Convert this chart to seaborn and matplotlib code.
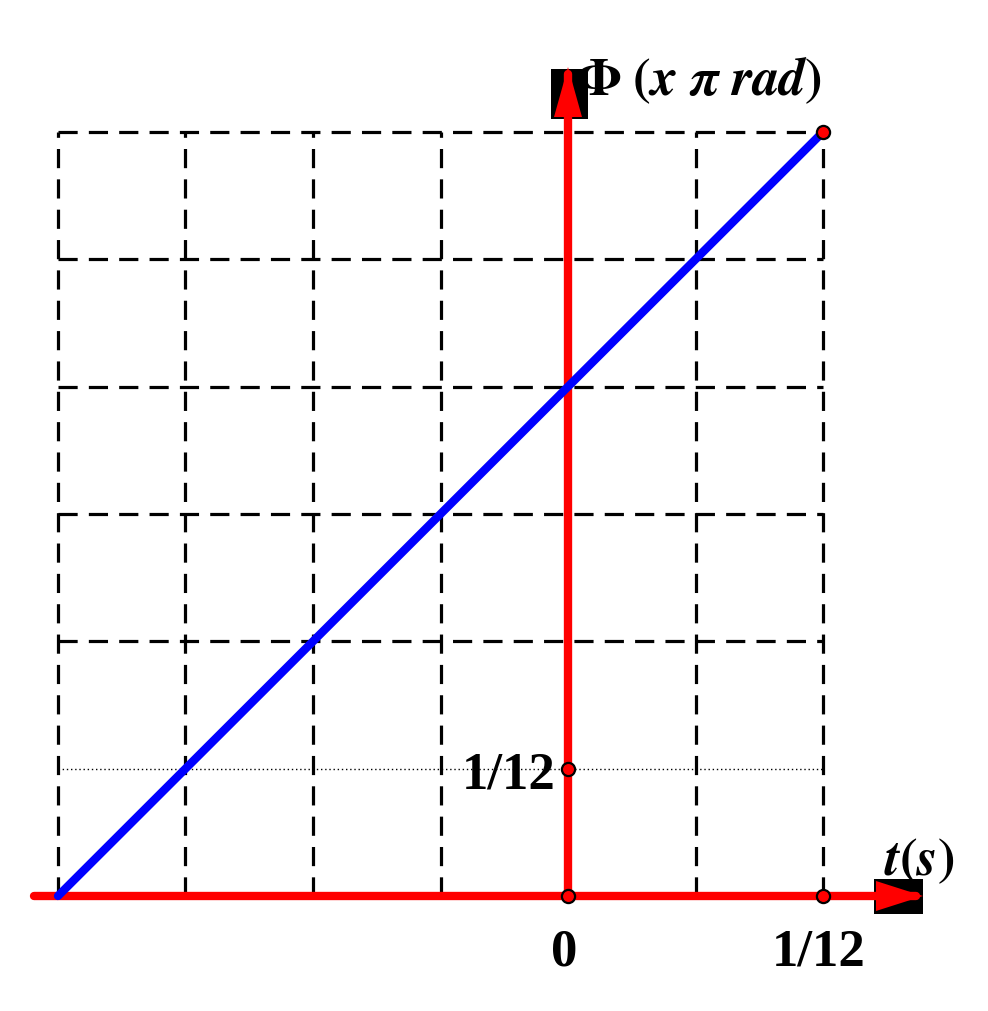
import matplotlib
matplotlib.use('Agg')
import matplotlib.pyplot as plt
from matplotlib.patches import Rectangle, Polygon
import numpy as np
import pandas as pd
import seaborn as sns

# Datos de la fase Φ(t)
t_line = [-1/6, 1/12]          # s
phi_line = [0, 1/2]            # x π rad
t_grid = [-4/24, -3/24, -2/24, -1/24, 1/24, 2/24]
phi_grid = [2/12, 3/12, 4/12, 5/12, 6/12]
phi_dotted = 1/12
pts_t = [0, 0, 1/12, 1/12]
pts_phi = [0, 1/12, 0, 1/2]
xtick_vals = [0, 1/12]
xtick_labels = ['0', '1/12']
ytick_vals = [1/12]
ytick_labels = ['1/12']

sns.set_theme(style='white')
plt.rcParams['font.family'] = ['Liberation Serif', 'DejaVu Serif']
plt.rcParams['mathtext.fontset'] = 'stix'
plt.rcParams['text.color'] = 'black'

fig = plt.figure(figsize=(9.88, 10.12), dpi=100)
ax = fig.add_axes([0, 0, 1, 1])
sx = (1/24) / 127.5   # s por pixel
sy = (1/12) / 127.33  # rad por pixel
ax.set_xlim(-568 * sx, (988 - 568) * sx)
ax.set_ylim(-(1012 - 897) * sy, 897 * sy)
ax.axis('off')

# Cuadrícula discontinua
for tv in t_grid:
    ax.plot([tv, tv], [0, max(phi_grid)], color='black', lw=2.3,
            dashes=(6, 3.5), zorder=1)
for pv in phi_grid:
    ax.plot([min(t_grid), max(t_grid)], [pv, pv], color='black', lw=2.3,
            dashes=(6, 3.5), zorder=1)
ax.plot([min(t_grid), max(t_grid)], [phi_dotted, phi_dotted], color='black',
        lw=1.0, ls=(0, (1, 2)), zorder=1)

# Ejes rojos
x_end = (915 - 567) * sx
y_end = (897 - 75) * sy
ax.plot([-534 * sx, x_end], [0, 0], color='red', lw=6, solid_capstyle='round', zorder=3)
ax.plot([0, 0], [0, y_end], color='red', lw=6, solid_capstyle='round', zorder=3)

# Puntas de flecha
ax.add_patch(Rectangle((-17 * sx, (897 - 120) * sy), 37 * sx, 50 * sy,
                       facecolor='black', edgecolor='none', zorder=2))
ax.add_patch(Polygon([(0, (897 - 68) * sy), (-14 * sx, (897 - 118) * sy),
                      (14 * sx, (897 - 118) * sy)],
                     facecolor='red', edgecolor='none', zorder=4))
ax.add_patch(Rectangle(((873 - 567) * sx, -18 * sy), 49 * sx, 35 * sy,
                       facecolor='black', edgecolor='none', zorder=2))
ax.add_patch(Polygon([((922 - 567) * sx, 0), ((875 - 567) * sx, 15 * sy),
                      ((875 - 567) * sx, -15 * sy)],
                     facecolor='red', edgecolor='none', zorder=4))

# Recta Φ(t)
df = pd.DataFrame({'t': t_line, 'phi': phi_line})
sns.lineplot(data=df, x='t', y='phi', color='#0000ff', lw=6, ax=ax, zorder=5)

# Puntos
ax.scatter(pts_t, pts_phi, s=90, facecolor='red', edgecolor='black',
           linewidths=1.6, zorder=6)

# Etiquetas
for xv, lab in zip(xtick_vals, xtick_labels):
    ax.text(xv - 4 * sx, -56 * sy, lab, ha='center', va='center',
            fontsize=38, fontweight='bold', color='black')
for yv, lab in zip(ytick_vals, ytick_labels):
    ax.text(-12 * sx, yv - 6 * sy, lab, ha='right', va='center',
            fontsize=38, fontweight='bold', color='black')
ax.text(x_end - 32 * sx, 36 * sy, r'$\mathbfit{t}\mathbf{(}\mathbfit{s}\mathbf{)}$',
        ha='left', va='center', fontsize=38, color='black')
ax.text(8 * sx, (897 - 80) * sy,
        r'$\mathbf{\Phi\ (}\mathbfit{x\ \pi\ rad}\mathbf{)}$',
        ha='left', va='center', fontsize=38, color='black')

fig.savefig('out.png', dpi=100)
